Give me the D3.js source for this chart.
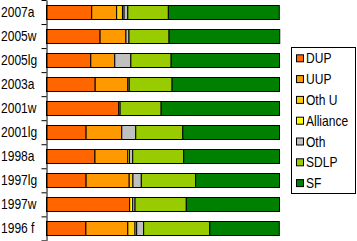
<!DOCTYPE html>
<html>
<head>
<meta charset="utf-8">
<script src="https://cdn.jsdelivr.net/npm/d3@7"></script>
<style>
body{margin:0;background:#fff;}
text{font-family:"Liberation Sans",Arial,sans-serif;font-size:14px;fill:#000;}
</style>
</head>
<body>
<div id="chart"></div>
<script>
var width = 357, height = 241;

var elections = ["2007a","2005w","2005lg","2003a","2001w","2001lg","1998a","1997lg","1997w","1996 f"];
var parties = ["DUP","UUP","Oth U","Alliance","Oth","SDLP","SF"];
var colors = ["#ff6600","#ff9900","#ffcc00","#ffff00","#c0c0c0","#99cc00","#008000"];

// vote shares (%) per election, same order as elections
var dup      = [19.4,23.0,19.0,20.9,31.0,17.0,20.8,17.0,35.7,16.9];
var uup      = [10.7,11.1,10.3,14.0, 0.0,15.3,14.1,18.5, 0.0,18.0];
var othU     = [ 2.5, 0.0, 0.0, 0.0, 0.0, 0.0, 0.0, 1.6, 0.0, 3.1];
var alliance = [ 0.7, 0.0, 0.0, 0.0, 0.0, 0.0, 0.7, 0.0, 1.3, 0.7];
var oth      = [ 1.6, 1.3, 6.9, 0.6, 0.6, 6.0, 1.4, 3.6, 1.0, 3.0];
var sdlp     = [17.4,17.2,17.3,18.4,17.6,20.2,21.9,23.3,22.0,28.4];
var sf       = [47.6,47.5,46.5,46.1,50.8,41.5,41.1,36.0,40.0,29.8];

var series = [dup,uup,othU,alliance,oth,sdlp,sf];
var rows = elections.map(function(e,i){
    var r = {name:e};
    parties.forEach(function(p,j){ r[p] = series[j][i]; });
    return r;
});

var svg = d3.select("#chart").append("svg")
    .attr("width",width)
    .attr("height",height);

var x = d3.scaleLinear().domain([0,100]).range([46.5,279.5]);
var y = d3.scaleBand().domain(elections).range([0,240.4])
    .paddingInner(0.39).paddingOuter(0.195);
var color = d3.scaleOrdinal().domain(parties).range(colors);

var stacked = d3.stack().keys(parties)(rows);

//bars
svg.append("g")
    .selectAll("g")
    .data(stacked)
    .enter()
    .append("g")
    .attr("fill", d => color(d.key))
    .selectAll("rect")
    .data(d => d.filter(s => s[1]-s[0] > 0))
    .enter()
    .append("rect")
    .attr("x", d => x(d[0]))
    .attr("y", d => Math.round(y(d.data.name))+0.5)
    .attr("width", d => x(d[1])-x(d[0]))
    .attr("height", 14)
    .attr("stroke","#000")
    .attr("stroke-width",1);

//axis: ticks at band edges
var edges = d3.scaleLinear().domain([0,elections.length]).range([0,240.4]);
svg.append("g")
    .attr("transform","translate(46.5,0)")
    .call(d3.axisLeft(edges).ticks(10).tickSize(5).tickSizeOuter(0).tickFormat(""))
    .call(g => g.selectAll(".tick line").attr("stroke","#000"))
    .call(g => g.select(".domain").attr("stroke","#000"));

//category labels
svg.append("g")
    .selectAll("text")
    .data(elections)
    .enter()
    .append("text")
    .attr("transform", d => "translate(1," + (y(d)+y.bandwidth()/2) + ") scale(0.86,1)")
    .attr("dy","0.35em")
    .text(d => d);

//legend
var legend = svg.append("g");
legend.append("rect")
    .attr("x",291.5).attr("y",47.5)
    .attr("width",64).attr("height",146)
    .attr("fill","#fff").attr("stroke","#000");

var item = legend.selectAll(".item")
    .data(parties)
    .enter()
    .append("g")
    .attr("transform",(d,i) => "translate(0," + (58.3 + i*20.8) + ")");
item.append("rect")
    .attr("x",296.5).attr("y",-3.5)
    .attr("width",7).attr("height",7)
    .attr("fill", d => color(d))
    .attr("stroke","#000");
item.append("text")
    .attr("transform","translate(306,0) scale(0.86,1)")
    .attr("dy","0.36em")
    .text(d => d);
</script>
</body>
</html>
